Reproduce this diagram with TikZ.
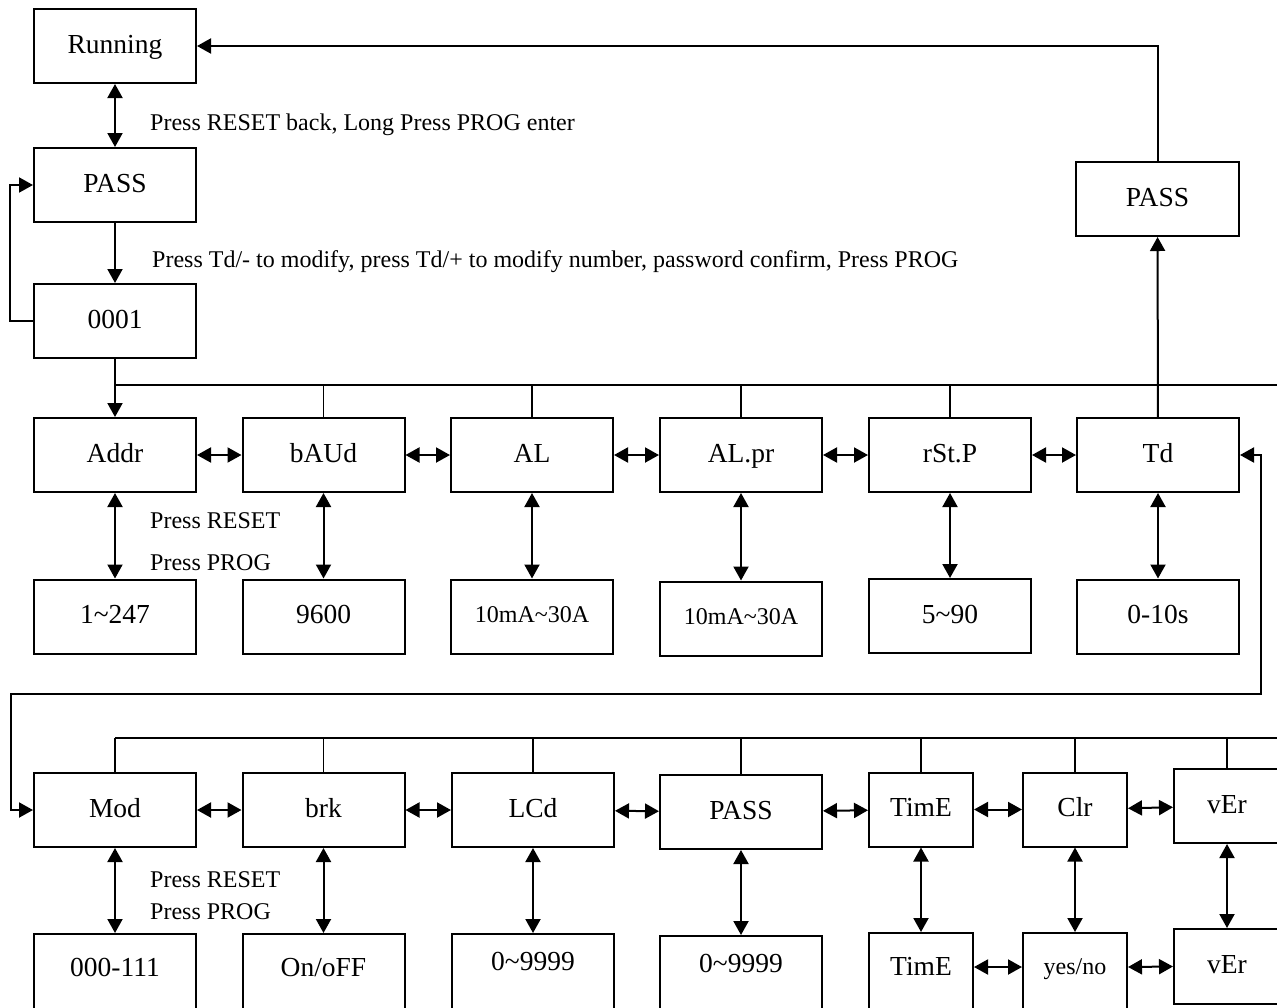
\documentclass[tikz,border=0pt]{standalone}
\usepackage{fontspec}
\setmainfont{Liberation Serif}
\usetikzlibrary{arrows.meta}
\begin{document}
\begin{tikzpicture}[x=1pt,y=-1pt,
  >={Triangle[length=14pt,width=15pt]},
  box/.style={draw, line width=2pt, inner sep=0pt, minimum width=162pt, minimum height=74pt,
    font=\fontsize{27.5}{30}\selectfont, text height=19pt, text depth=5pt},
  sbox/.style={box, font=\fontsize{24}{28}\selectfont, text height=16pt, text depth=4pt},
  narrow/.style={minimum width=104pt},
  wide/.style={minimum width=106pt},
  cut/.style={minimum height=80pt},
  con/.style={line width=2pt},
  stub/.style={line width=1.7pt},
  lab/.style={anchor=base west, inner sep=0pt, font=\fontsize{24}{28}\selectfont}
]
\useasboundingbox (0,0) rectangle (1277,1007);
\fill[white] (0,0) rectangle (1277,1007);
\clip (0,0) rectangle (1277,1007);

% top column
\node[box] (run) at (115,46) {Running};
\node[box] (pass) at (115,185) {PASS};
\node[box] (c0001) at (115,321) {0001};
\node[box, minimum width=163pt] (passR) at (1157.5,199) {PASS};

% row 1
\node[box] (addr) at (115,455) {Addr};
\node[box] (baud) at (323.5,455) {bAUd};
\node[box] (al) at (532,455) {AL};
\node[box] (alpr) at (741,455) {AL.pr};
\node[box] (rstp) at (950,455) {rSt.P};
\node[box] (td) at (1158,455) {Td};

% row 1 values
\node[box] (v1) at (115,616.5) {1\textasciitilde 247};
\node[box] (v2) at (323.5,616.5) {9600};
\node[sbox] (v3) at (532,616.5) {10mA\textasciitilde 30A};
\node[sbox] (v4) at (741,618.5) {10mA\textasciitilde 30A};
\node[box] (v5) at (950,616) {5\textasciitilde 90};
\node[box] (v6) at (1158,616.5) {0-10s};

% row 2
\node[box] (mod) at (115,810) {Mod};
\node[box] (brk) at (323.5,810) {brk};
\node[box] (lcd) at (533,810) {LCd};
\node[box] (pass2) at (741,812) {PASS};
\node[box,narrow] (time) at (921,809.5) {TimE};
\node[box,narrow] (clr) at (1075,809.5) {Clr};
\node[box,wide] (ver) at (1227,806) {vEr};

% row 2 values
\node[box,cut,text depth=14.4pt] (w1) at (115,974) {000-111};
\node[box,cut,text depth=14.4pt] (w2) at (323.5,974) {On/oFF};
\node[box,cut,text depth=26.4pt] (w3) at (533,974) {0\textasciitilde 9999};
\node[box,cut,text depth=26.4pt] (w4) at (741,976) {0\textasciitilde 9999};
\node[box,narrow,cut,text depth=14.4pt] (w5) at (921,973) {TimE};
\node[sbox,narrow,cut,text depth=14pt] (w6) at (1075,973) {yes/no};
\node[box,wide,minimum height=75pt] (w7) at (1227,966.5) {vEr};

% labels
\node[lab] (l1) at (150,130) {Press RESET back, Long Press PROG enter};
\node[lab] (l2) at (152,267) {Press Td/- to modify, press Td/+ to modify number, password confirm, Press PROG};
\node[lab] (l3) at (150,528) {Press RESET};
\node[lab] (l4) at (150,570) {Press PROG};
\node[lab] (l5) at (150,887) {Press RESET};
\node[lab] (l6) at (150,919) {Press PROG};

% coordinates
\coordinate (b1) at (115,385);
\coordinate (b1e) at (1277,385);
\coordinate (b2) at (115,738);
\coordinate (b2e) at (1277,738);
\coordinate (k1) at (1261,694);
\coordinate (k2) at (11,694);

% top connectors
\draw[con,<->] (run) -- (pass);
\draw[con,->] (pass) -- (c0001);
\draw[con,->] (c0001.west) -- ++(-23,0) |- (pass.west);
\draw[con,->] (c0001) -- (addr);
\draw[con] (b1) -- (b1e);
\foreach \n in {baud,al,alpr,rstp} \draw[stub] (\n.north) -- (\n.north |- b1);
\draw[con,->] (td) -- (passR);
\draw[con,->] (passR.north) |- (run.east);

% row 1 arrows
\draw[con,<->] (addr) -- (baud);
\draw[con,<->] (baud) -- (al);
\draw[con,<->] (al) -- (alpr);
\draw[con,<->] (alpr) -- (rstp);
\draw[con,<->] (rstp) -- (td);
\draw[con,<->] (addr) -- (v1);
\draw[con,<->] (baud) -- (v2);
\draw[con,<->] (al) -- (v3);
\draw[con,<->] (alpr) -- (v4);
\draw[con,<->] (rstp) -- (v5);
\draw[con,<->] (td) -- (v6);

% loop Td <-> Mod
\draw[con,<->] (td.east) -| (k1) -- (k2) |- (mod.west);

% row 2 branch
\draw[con] (b2) -- (b2e);
\draw[stub] (mod.north) -- (b2);
\foreach \n in {brk,lcd,pass2,time,clr,ver} \draw[stub] (\n.north) -- (\n.north |- b2);

% row 2 arrows
\draw[con,<->] (mod) -- (brk);
\draw[con,<->] (brk) -- (lcd);
\draw[con,<->] (lcd) -- (pass2);
\draw[con,<->] (pass2) -- (time);
\draw[con,<->] (time) -- (clr);
\draw[con,<->] (clr) -- (ver);
\draw[con,<->] (mod) -- (w1);
\draw[con,<->] (brk) -- (w2);
\draw[con,<->] (lcd) -- (w3);
\draw[con,<->] (pass2) -- (w4);
\draw[con,<->] (time) -- (w5);
\draw[con,<->] (clr) -- (w6);
\draw[con,<->] (ver) -- (w7);
\draw[con,<->] ([yshift=6pt]w5.east) -- ([yshift=6pt]w6.west);
\draw[con,<->] ([yshift=6pt]w6.east) -- (w7.west);
\end{tikzpicture}
\end{document}
